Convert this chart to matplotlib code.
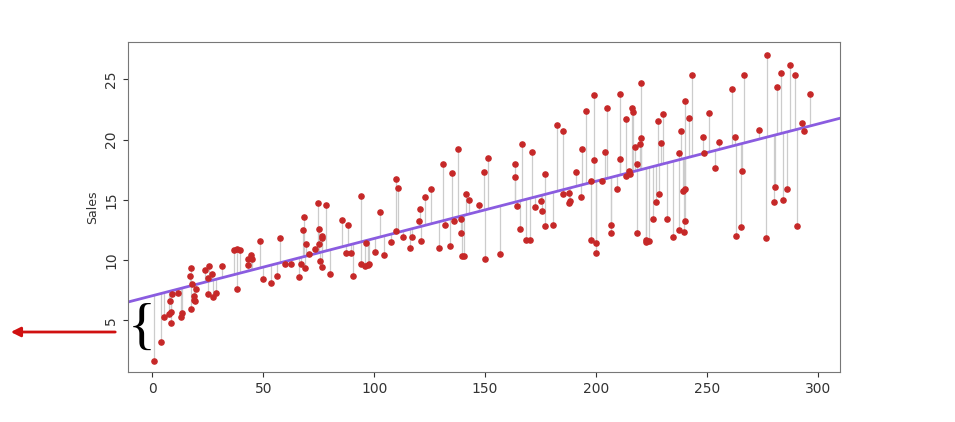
import matplotlib
matplotlib.use("Agg")
import matplotlib.pyplot as plt
import numpy as np

tv = [230.1,44.5,17.2,151.5,180.8,8.7,57.5,120.2,8.6,199.8,66.1,214.7,23.8,97.5,204.1,195.4,67.8,281.4,69.2,147.3,218.4,237.4,13.2,228.3,62.3,262.9,142.9,240.1,248.8,70.6,292.9,112.9,97.2,265.6,95.7,290.7,266.9,74.7,43.1,228,202.5,177,293.6,206.9,25.1,175.1,89.7,239.9,227.2,66.9,199.8,100.4,216.4,182.6,262.7,198.9,7.3,136.2,210.8,210.7,53.5,261.3,239.3,102.7,131.1,69,31.5,139.3,237.4,216.8,199.1,109.8,26.8,129.4,213.4,16.9,27.5,120.5,5.4,116,76.4,239.8,75.3,68.4,213.5,193.2,76.3,110.7,88.3,109.8,134.3,28.6,217.7,250.9,107.4,163.3,197.6,184.9,289.7,135.2,222.4,296.4,280.2,187.9,238.2,137.9,25,90.4,13.1,255.4,225.8,241.7,175.7,209.6,78.2,75.1,139.2,76.4,125.7,19.4,141.3,18.8,224,123.1,229.5,87.2,7.8,80.2,220.3,59.6,0.7,265.2,8.4,219.8,36.9,48.3,25.6,273.7,43,184.9,73.4,193.7,220.5,104.6,96.2,140.3,240.1,243.2,38,44.7,280.7,121,197.6,171.3,187.8,4.1,93.9,149.8,11.7,131.7,172.5,85.7,188.4,163.5,117.2,234.5,17.9,206.8,215.4,284.3,50,164.5,19.6,168.4,222.4,276.9,248.4,170.2,276.7,165.6,156.6,218.5,56.2,287.6,253.8,205,139.5,191.1,286,18.7,39.5,75.5,17.2,166.8,149.7,38.2,94.2,177,283.6,232.1]
sales = [22.1,10.4,9.3,18.5,12.9,7.2,11.8,13.2,4.8,10.6,8.6,17.4,9.2,9.7,19,22.4,12.5,24.4,11.3,14.6,18,12.5,5.6,15.5,9.7,12,15,15.9,18.9,10.5,21.4,11.9,9.6,17.4,9.5,12.8,25.4,14.7,10.1,21.5,16.6,17.1,20.7,12.9,8.5,14.9,10.6,23.2,14.8,9.7,11.4,10.7,22.6,21.2,20.2,23.7,5.5,13.2,23.8,18.4,8.1,24.2,15.7,14,18,9.3,9.5,13.4,18.9,22.3,18.3,12.4,8.8,11,17,8.7,6.9,14.2,5.3,11,11.8,12.3,11.3,13.6,21.7,15.2,12,16,12.9,16.7,11.2,7.3,19.4,22.2,11.5,16.9,11.7,15.5,25.4,17.2,11.7,23.8,14.8,14.7,20.7,19.2,7.2,8.7,5.3,19.8,13.4,21.8,14.1,15.9,14.6,12.6,12.2,9.4,15.9,6.6,15.5,7,11.6,15.2,19.7,10.6,6.6,8.8,24.7,9.7,1.6,12.7,5.7,19.6,10.8,11.6,9.5,20.8,9.6,20.7,10.9,19.2,20.1,10.4,11.4,10.3,13.2,25.4,10.9,10.1,16.1,11.6,16.6,19,15.6,3.2,15.3,10.1,7.3,12.9,14.4,13.3,14.9,18,11.9,11.9,8,12.2,17.1,15,8.4,14.5,7.6,11.7,11.5,27,20.2,11.7,11.8,12.6,10.5,12.2,8.7,26.2,17.6,22.6,10.3,17.3,15.9,6.7,10.8,9.9,5.9,19.6,17.3,7.6,9.7,12.8,25.5,13.4]
n = min(len(tv), len(sales))
x = np.array(tv[:n]); y = np.array(sales[:n])
slope, icpt = np.polyfit(x, y, 1)
fit = icpt + slope * x

fig = plt.figure(figsize=(9.55, 4.22), dpi=100)
ax = fig.add_axes([128/955, 50/422, 712/955, 330/422])
ax.vlines(x, y, fit, color="#cccccc", lw=0.9, zorder=1)
xl = np.array([-15, 315])
ax.plot(xl, icpt + slope * xl, color="#8a5ce0", lw=2, zorder=2)
ax.scatter(x, y, s=14, color="#c62828", zorder=3)
ax.set_xlim(-11, 310)
ax.set_ylim(0.7, 28.1)
ax.set_xticks([0, 50, 100, 150, 200, 250, 300])
ax.set_yticks([5, 10, 15, 20, 25])
ax.tick_params(labelsize=10, colors="#333333")
for t in ax.get_yticklabels():
    t.set_rotation(90); t.set_va("center")
ax.set_ylabel("Sales", fontsize=9, color="#333333")
for s in ax.spines.values():
    s.set_color("#777777")
ax.text(-5, 4.2, "{", fontsize=42, ha="center", va="center", family="Liberation Serif")
fig.patches.append(matplotlib.patches.FancyArrowPatch((118/955, 1-332/422), (8/955, 1-332/422),
    transform=fig.transFigure, arrowstyle="-|>", mutation_scale=14, color="#d01010", lw=2))
fig.savefig("out.png", dpi=100)
